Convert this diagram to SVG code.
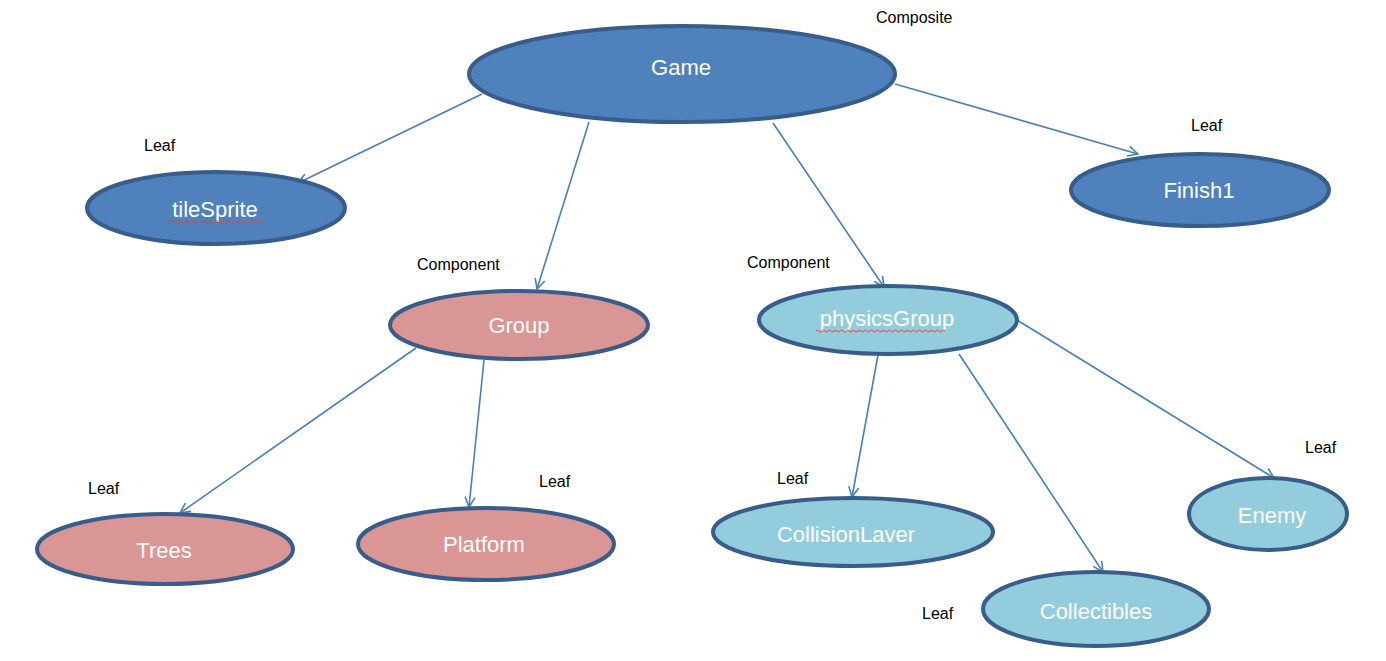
<svg xmlns="http://www.w3.org/2000/svg" width="1386" height="661" viewBox="0 0 1386 661">
<style>
.n ellipse{stroke:#385D8A;stroke-width:4}
.blue ellipse{fill:#4F81BD}
.pink ellipse{fill:#D99694}
.cyan ellipse{fill:#93CDDD}
.n text{font-family:"Liberation Sans",Arial,sans-serif;font-size:22px;fill:#FFFFFF;text-anchor:middle;dominant-baseline:central}
.lbl{font-family:"Liberation Sans",Arial,sans-serif;font-size:16px;fill:#000000}
.e line{stroke:#4A7EBB;stroke-width:1.6;marker-end:url(#arr)}
.sq{fill:none;stroke:#C0504D;stroke-width:1}
</style>
<defs>
<marker id="arr" viewBox="0 0 12 12" refX="11" refY="6" markerWidth="12" markerHeight="12" markerUnits="userSpaceOnUse" orient="auto">
<path d="M1,1 L11,6 L1,11" fill="none" stroke="#4A7EBB" stroke-width="1.6"/>
</marker>
</defs>
<rect width="1386" height="661" fill="#FFFFFF"/>
<g id="connectors" class="e">
<line x1="482" y1="94" x2="298" y2="183"/>
<line x1="589" y1="122" x2="537" y2="289"/>
<line x1="773" y1="123" x2="884" y2="287"/>
<line x1="895" y1="84" x2="1138" y2="154"/>
<line x1="416" y1="348" x2="180" y2="513"/>
<line x1="484" y1="360" x2="469" y2="507"/>
<line x1="878" y1="355" x2="852" y2="497"/>
<line x1="959" y1="354" x2="1103" y2="572"/>
<line x1="1017" y1="320" x2="1274" y2="478"/>
</g>
<g id="game" class="n blue"><ellipse cx="682" cy="74" rx="213" ry="48"/><text x="681" y="67">Game</text></g>
<g id="tileSprite" class="n blue"><ellipse cx="216" cy="208" rx="129" ry="36"/><text x="215" y="209">tileSprite</text>
<path class="sq" d="M167,222 q1.5,-2 3,0 t3,0 t3,0 t3,0 t3,0 t3,0 t3,0 t3,0 t3,0 t3,0 t3,0 t3,0 t3,0 t3,0 t3,0 t3,0 t3,0 t3,0 t3,0 t3,0 t3,0 t3,0 t3,0 t3,0 t3,0 t3,0 t3,0 t3,0 t3,0 t3,0 t3,0 t3,0"/></g>
<g id="finish1" class="n blue"><ellipse cx="1200" cy="190" rx="129" ry="36"/><text x="1199" y="190">Finish1</text></g>
<g id="group" class="n pink"><ellipse cx="519" cy="325" rx="129" ry="34"/><text x="519" y="325">Group</text></g>
<g id="physicsGroup" class="n cyan"><ellipse cx="888" cy="320" rx="129" ry="34"/><text x="887" y="318">physicsGroup</text>
<path class="sq" d="M816,331 q1.5,-2 3,0 t3,0 t3,0 t3,0 t3,0 t3,0 t3,0 t3,0 t3,0 t3,0 t3,0 t3,0 t3,0 t3,0 t3,0 t3,0 t3,0 t3,0 t3,0 t3,0 t3,0 t3,0 t3,0 t3,0 t3,0 t3,0 t3,0 t3,0 t3,0 t3,0 t3,0 t3,0 t3,0 t3,0 t3,0 t3,0 t3,0 t3,0 t3,0 t3,0 t3,0 t3,0 t3,0"/></g>
<g id="trees" class="n pink"><ellipse cx="165" cy="549" rx="128" ry="35"/><text x="164" y="550">Trees</text></g>
<g id="platform" class="n pink"><ellipse cx="486" cy="544" rx="128" ry="36"/><text x="484" y="544">Platform</text></g>
<g id="collisionLayer" class="n cyan"><ellipse cx="853" cy="532" rx="140" ry="34"/><text x="846" y="534">CollisionLaver</text></g>
<g id="enemy" class="n cyan"><ellipse cx="1268" cy="514" rx="79" ry="36"/><text x="1272" y="515">Enemy</text></g>
<g id="collectibles" class="n cyan"><ellipse cx="1096" cy="609" rx="113" ry="37"/><text x="1096" y="611">Collectibles</text></g>
<g id="labels">
<text class="lbl" x="876" y="23">Composite</text>
<text class="lbl" x="144" y="151">Leaf</text>
<text class="lbl" x="1191" y="131">Leaf</text>
<text class="lbl" x="417" y="270">Component</text>
<text class="lbl" x="747" y="268">Component</text>
<text class="lbl" x="88" y="494">Leaf</text>
<text class="lbl" x="539" y="487">Leaf</text>
<text class="lbl" x="777" y="484">Leaf</text>
<text class="lbl" x="1305" y="453">Leaf</text>
<text class="lbl" x="922" y="619">Leaf</text>
</g>
</svg>
